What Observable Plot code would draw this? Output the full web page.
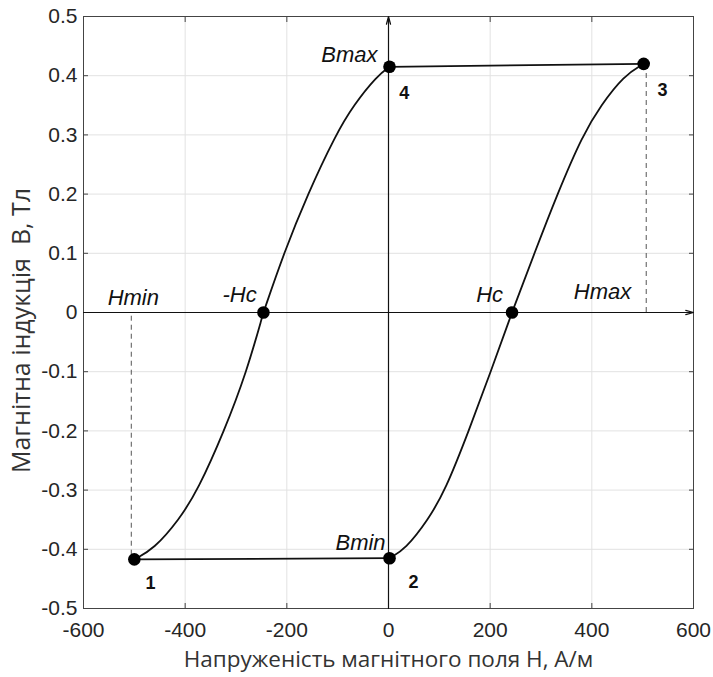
<!DOCTYPE html>
<html><head><meta charset="utf-8">
<script src="https://cdn.jsdelivr.net/npm/d3@7"></script>
<script src="https://cdn.jsdelivr.net/npm/@observablehq/plot@0.6"></script>
<style>body{margin:0;background:#fff} svg{display:block}</style>
</head><body><div id="chart"></div>
<script>
const xTicks = [-600, -400, -200, 0, 200, 400, 600];
const yTicks = [-0.5, -0.4, -0.3, -0.2, -0.1, 0, 0.1, 0.2, 0.3, 0.4, 0.5];
const xLabel = "Напруженість магнітного поля Н, А/м";
const yLabel = "Магнітна індукція  В, Тл";

// branches of the hysteresis loop (H in A/m, B in T)
const lowerLeftH  = [-500, -462, -412, -375, -323, -279, -246];
const lowerLeftB  = [-0.417, -0.4, -0.35, -0.3, -0.2, -0.1, 0];
const upperLeftH  = [-246, -206, -159, -104, -69, -22, 2];
const upperLeftB  = [0, 0.1, 0.2, 0.3, 0.35, 0.4, 0.415];
const lowerRightH = [2, 33, 78, 112, 158, 201, 243];
const lowerRightB = [-0.415, -0.4, -0.35, -0.3, -0.2, -0.1, 0];
const upperRightH = [243, 287, 332, 382, 418, 463, 502];
const upperRightB = [0, 0.1, 0.2, 0.3, 0.35, 0.4, 0.42];

// key points
const pointH = [-500, 2, 502, 2, -246, 243];
const pointB = [-0.417, -0.415, 0.42, 0.415, 0, 0];

// horizontal segments: bottom (1 -> 2), top (4 -> 3)
const segH1 = [-500, 2];
const segB1 = [-0.417, 0.415];
const segH2 = [2, 502];
const segB2 = [-0.415, 0.42];

// dashed verticals (Hmin, Hmax)
const dashH = [-506, 507];
const dashB1 = [-0.41, 0];
const dashB2 = [0, 0.415];

// annotations
const italicLabels = ["Bmax", "Hmin", "-Hc", "Hc", "Hmax", "Bmin"];
const italicH = [-77, -502, -293, 199, 421, -55];
const italicB = [0.435, 0.025, 0.029, 0.029, 0.034, -0.389];
const numLabels = ["1", "2", "3", "4"];
const numH = [-468, 49, 539, 31];
const numB = [-0.458, -0.456, 0.375, 0.37];

const mk = (H, B) => H.map((h, i) => ({H: h, B: B[i]}));
const txt = (L, H, B) => L.map((l, i) => ({label: l, H: H[i], B: B[i]}));
const branches = [
  mk(lowerLeftH, lowerLeftB), mk(upperLeftH, upperLeftB),
  mk(lowerRightH, lowerRightB), mk(upperRightH, upperRightB)
];
const segs = segH1.map((h, i) => ({x1: h, y1: segB1[i], x2: segH2[i], y2: segB2[i]}));
const dashes = dashH.map((h, i) => ({x: h, y1: dashB1[i], y2: dashB2[i]}));

const tc = "#262626";
const labelFont = "'Open Sans', 'DejaVu Sans', sans-serif";
const chart = Plot.plot({
  width: 713, height: 677,
  marginLeft: 83, marginRight: 20, marginTop: 16, marginBottom: 69,
  style: {fontFamily: "'Liberation Sans', Arial, sans-serif", fontSize: "21px", color: tc, background: "#fff"},
  x: {domain: [-600, 600]},
  y: {domain: [-0.5, 0.5]},
  marks: [
    Plot.gridX(xTicks, {stroke: "#e2e2e2", strokeOpacity: 1}),
    Plot.gridY(yTicks, {stroke: "#e2e2e2", strokeOpacity: 1}),
    Plot.frame({stroke: "#444"}),
    Plot.axisX(xTicks, {anchor: "bottom", tickSize: 0, tickPadding: 14, tickFormat: d => String(d), fontSize: 21, fill: tc, label: null}),
    Plot.axisY(yTicks, {anchor: "left", tickSize: 0, tickPadding: 6, tickFormat: d => String(d), fontSize: 21, fill: tc, label: null}),
    Plot.text([xLabel], {frameAnchor: "bottom", textAnchor: "middle", dy: 58, text: d => d, fontFamily: labelFont, fontSize: 22.5, fill: "#333"}),
    Plot.text([yLabel], {frameAnchor: "left", textAnchor: "middle", dx: -62, dy: 18, rotate: -90, text: d => d, fontFamily: labelFont, fontSize: 25, fill: "#333"}),
    Plot.axisX(xTicks, {anchor: "bottom", tickSize: -5, text: null, label: null, stroke: "#444"}),
    Plot.axisX(xTicks, {anchor: "top", tickSize: -5, text: null, label: null, stroke: "#444"}),
    Plot.axisY(yTicks, {anchor: "left", tickSize: -5, text: null, label: null, stroke: "#444"}),
    Plot.axisY(yTicks, {anchor: "right", tickSize: -5, text: null, label: null, stroke: "#444"}),
    // coordinate axes with arrows
    Plot.arrow([{x1: -600, y1: 0, x2: 600, y2: 0}], {x1: "x1", y1: "y1", x2: "x2", y2: "y2", stroke: "#111", strokeWidth: 1.2, headLength: 10, headAngle: 30}),
    Plot.arrow([{x1: 0, y1: -0.5, x2: 0, y2: 0.5}], {x1: "x1", y1: "y1", x2: "x2", y2: "y2", stroke: "#111", strokeWidth: 1.2, headLength: 10, headAngle: 30}),
    Plot.ruleX(dashes, {x: "x", y1: "y1", y2: "y2", stroke: "#555", strokeDasharray: "5,4", strokeWidth: 1}),
    Plot.link(segs, {x1: "x1", y1: "y1", x2: "x2", y2: "y2", stroke: "#111", strokeWidth: 1.8}),
    ...branches.map(b => Plot.line(b, {x: "H", y: "B", curve: "basis", stroke: "#111", strokeWidth: 1.8})),
    Plot.dot(mk(pointH, pointB), {x: "H", y: "B", r: 6.3, fill: "#000", stroke: "none"}),
    Plot.text(txt(italicLabels, italicH, italicB), {x: "H", y: "B", text: "label", fontStyle: "italic", fontSize: 22, fill: "#111"}),
    Plot.text(txt(numLabels, numH, numB), {x: "H", y: "B", text: "label", fontWeight: "bold", fontSize: 18, fill: "#111"})
  ]
});
document.getElementById("chart").appendChild(chart);
</script>
</body></html>
